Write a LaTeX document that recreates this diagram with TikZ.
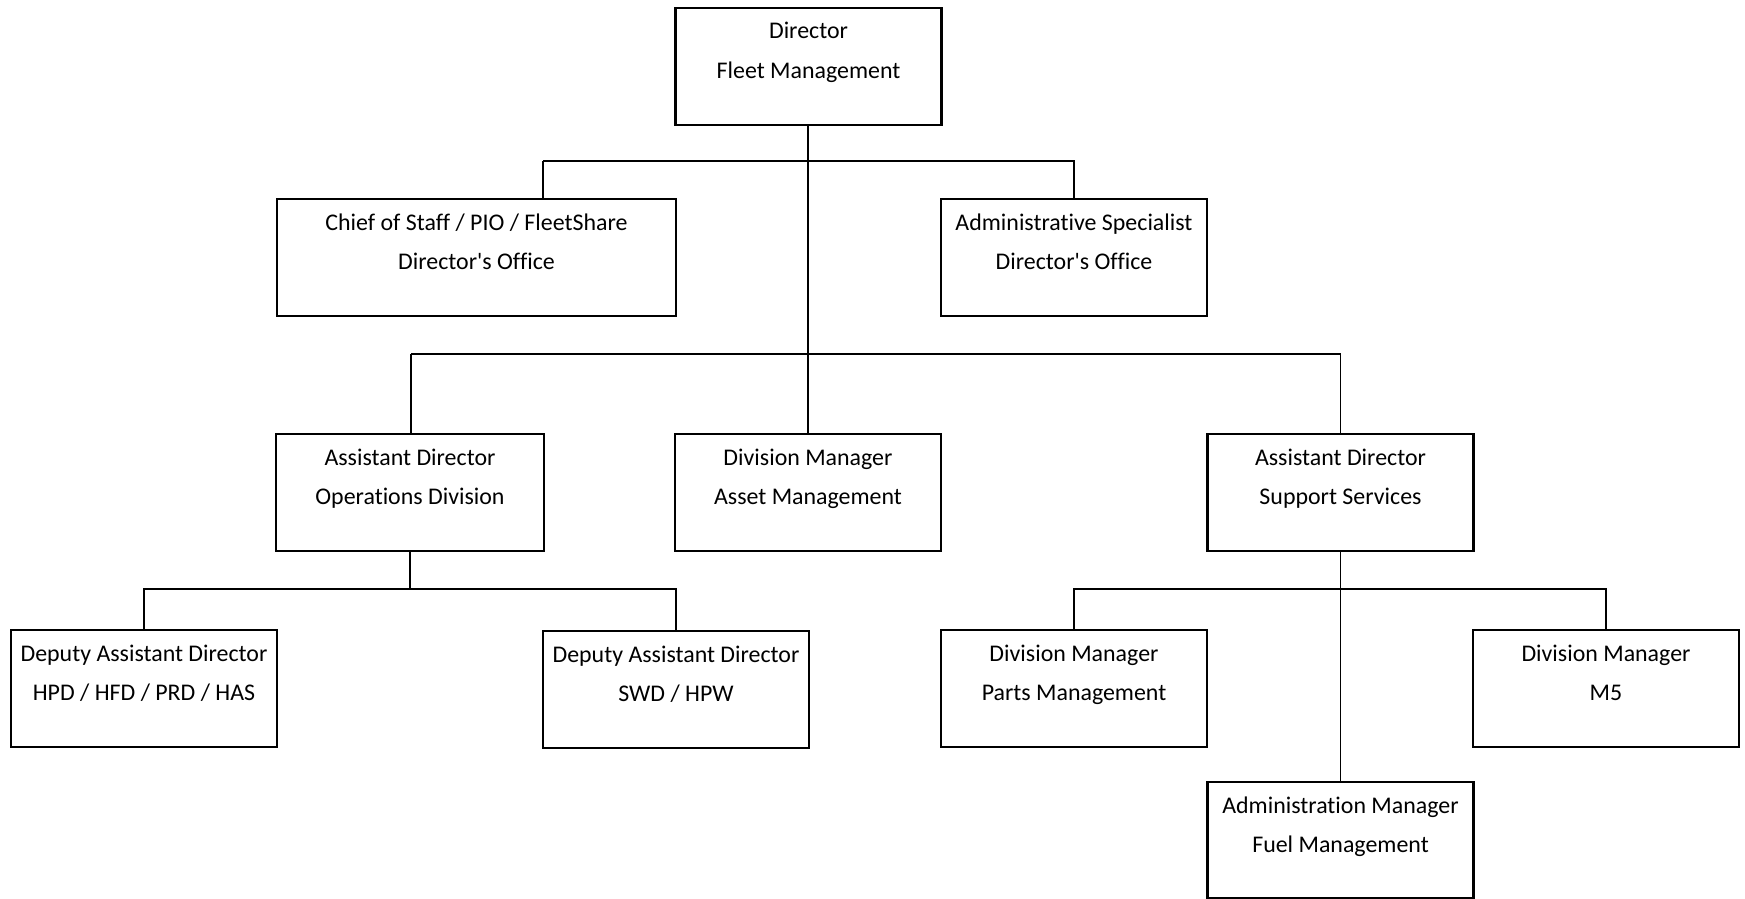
\documentclass[tikz,border=0pt]{standalone}
\usepackage{fontspec}
\setmainfont{Carlito}[Ligatures={NoCommon}]
\usetikzlibrary{calc}
\tikzset{
  orgbox/.style={draw, line width=2.4pt, minimum width=266pt, minimum height=117pt, inner sep=0pt, anchor=north},
  txt/.style={anchor=base, inner sep=0pt, font=\fontsize{23.9}{30}\selectfont},
  conn/.style={line width=1.2pt},
  thickconn/.style={line width=2.2pt}
}
\newcommand{\orgnode}[6]{%
  \node[orgbox,#6] (#1) at (#2,#3) {};
  \node[txt] (#1a) at ($(#1.north)+(0,32)$) {#4};
  \node[txt] (#1b) at ($(#1.north)+(0,71)$) {#5};
}
\begin{document}
\begin{tikzpicture}[x=1pt,y=-1pt]
\useasboundingbox (0,0) rectangle (1745,899);
\orgnode{dir}{808.5}{7}{Director}{Fleet Management}{}
\orgnode{cos}{476.5}{198}{Chief of Staff / PIO / FleetShare}{Director\textquotesingle s Office}{minimum width=399pt}
\orgnode{adm}{1074}{198}{Administrative Specialist}{Director\textquotesingle s Office}{}
\orgnode{ops}{410}{433}{Assistant Director}{Operations Division}{minimum width=268pt}
\orgnode{ast}{808}{433}{Division Manager}{Asset Management}{}
\orgnode{sup}{1340.5}{433}{Assistant Director}{Support Services}{}
\orgnode{dpa}{144}{629}{Deputy Assistant Director}{HPD / HFD / PRD / HAS}{}
\orgnode{dpb}{676}{630}{Deputy Assistant Director}{SWD / HPW}{}
\orgnode{prt}{1074}{629}{Division Manager}{Parts Management}{}
\orgnode{mfv}{1606}{629}{Division Manager}{M5}{}
\orgnode{fuel}{1340.5}{781}{Administration Manager}{Fuel Management}{minimum height=116pt}
% bus coordinates
\coordinate (b1) at (808,161);
\coordinate (b1l) at (543,161);
\coordinate (b2) at (808,354);
\coordinate (b2l) at (411,354);
\coordinate (b3) at (410,589);
\coordinate (b4) at (1340.5,589);
% top level
\draw[conn] (dir.south -| b1) -- (b2);
\draw[conn] (b1l) -- (b1l |- cos.north);
\draw[conn] (b1l) -| (adm.north);
% second level
\draw[conn] (b2l) -- (b2l |- ops.north);
\draw[conn] (b2l) -| (sup.north);
\draw[thickconn] (b2) -- (ast.north);
% operations
\draw[conn] (ops.south) -- (b3);
\draw[conn] (dpa.north) |- (b3) -| (dpb.north);
% support
\draw[conn] (sup.south) -- (fuel.north);
\draw[conn] (prt.north) |- (b4) -| (mfv.north);
\end{tikzpicture}
\end{document}
